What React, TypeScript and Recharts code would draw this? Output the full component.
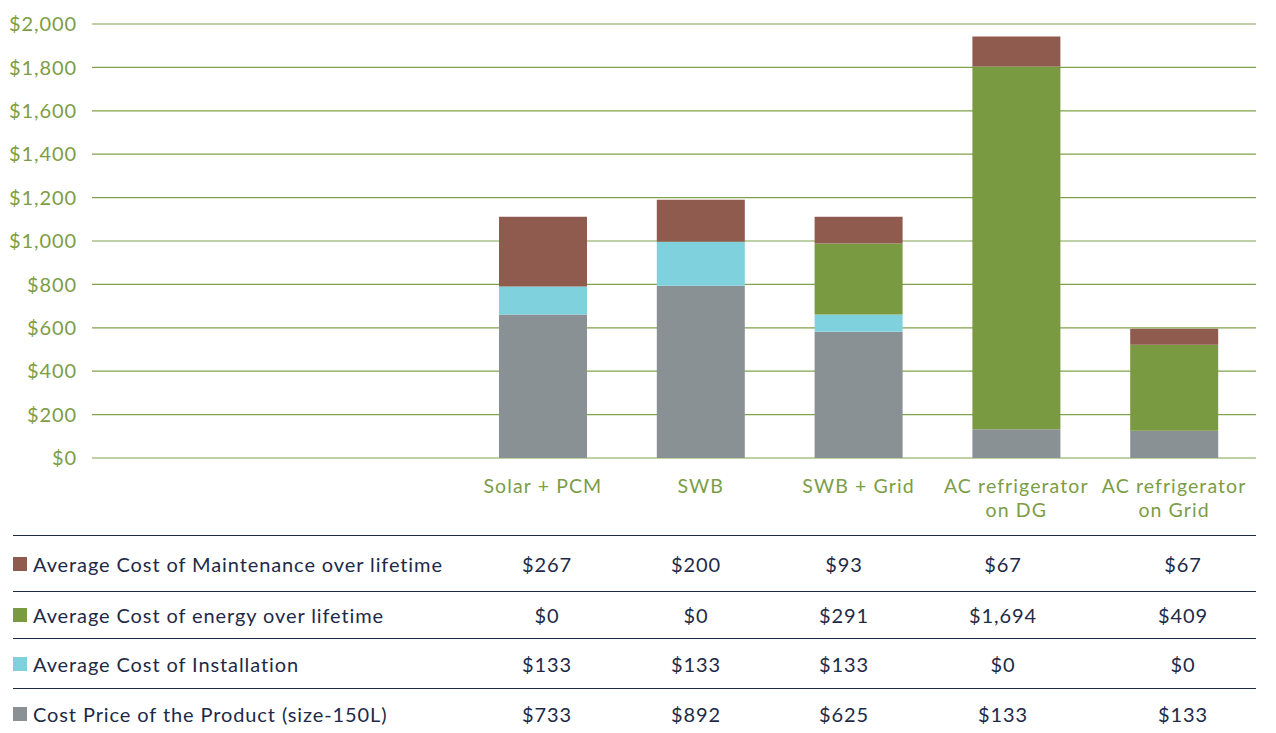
import React from 'react';
import { Bar, BarChart, CartesianGrid, XAxis, YAxis } from 'recharts';

// categories along the x axis ("\n" breaks a label into two lines)
const categories = ['Solar + PCM', 'SWB', 'SWB + Grid', 'AC refrigerator\non DG', 'AC refrigerator\non Grid'];

// bar segments, as drawn in the chart (USD)
const productCost = [661, 794, 582, 132, 126];
const installationCost = [129, 203, 79, 0, 0];
const energyCost = [0, 0, 328, 1672, 396];
const maintenanceCost = [322, 193, 123, 138, 74];

const yTicks = [0, 200, 400, 600, 800, 1000, 1200, 1400, 1600, 1800, 2000];

// table underneath the chart
const tableMaintenance = ['$267', '$200', '$93', '$67', '$67'];
const tableEnergy = ['$0', '$0', '$291', '$1,694', '$409'];
const tableInstallation = ['$133', '$133', '$133', '$0', '$0'];
const tableProduct = ['$733', '$892', '$625', '$133', '$133'];

const COLORS = {
    product: '#8a9194',
    installation: '#7fd1dd',
    energy: '#7a9a42',
    maintenance: '#8f5b4f',
};

const GREEN_TEXT = '#7c9d46';
const GRID = '#7fa34a';
const NAVY = '#1d2a47';
const FONT = 'Lato, "Noto Sans", sans-serif';
const FONT_SIZE = 20;
const SPACING = 0.9;

const data = categories.map((name, i) => ({
    name,
    product: productCost[i],
    installation: installationCost[i],
    energy: energyCost[i],
    maintenance: maintenanceCost[i],
}));

const tableRows = [
    { label: 'Average Cost of Maintenance over lifetime', color: COLORS.maintenance, values: tableMaintenance, height: 56 },
    { label: 'Average Cost of energy over lifetime', color: COLORS.energy, values: tableEnergy, height: 47 },
    { label: 'Average Cost of Installation', color: COLORS.installation, values: tableInstallation, height: 50 },
    { label: 'Cost Price of the Product (size-150L)', color: COLORS.product, values: tableProduct, height: 50 },
];

// column centres of the table, in px from its left edge
const columnCenters = [534, 683, 831, 990, 1170];

const CategoryTick = (props: any) => {
    const { x, y, payload } = props;
    const lines = String(payload.value).split('\n');
    return (
        <text
            x={x}
            y={y + 27}
            textAnchor="middle"
            fill={GREEN_TEXT}
            fontSize={19.5}
            fontFamily={FONT}
            style={{ letterSpacing: 1.1 }}
        >
            {lines.map((line, i) => (
                <tspan key={i} x={x} dy={i === 0 ? 0 : 24}>
                    {line}
                </tspan>
            ))}
        </text>
    );
};

const App = () => {
    return (
        <div style={{ position: 'relative', width: 1268, height: 725, fontFamily: FONT, letterSpacing: SPACING }}>
            <BarChart width={1276} height={525} data={data} margin={{ top: 16, right: 28, left: 0, bottom: 0 }} barSize={88}>
                <CartesianGrid vertical={false} stroke={GRID} strokeWidth={1.2} />
                <YAxis
                    width={84}
                    domain={[0, 2000]}
                    ticks={yTicks}
                    interval={0}
                    axisLine={false}
                    tickLine={false}
                    tickMargin={9}
                    tick={{ fill: GREEN_TEXT, fontSize: FONT_SIZE, fontFamily: FONT, style: { letterSpacing: SPACING } }}
                    tickFormatter={(v: number) => `$${v.toLocaleString('en-US')}`}
                />
                <XAxis
                    dataKey="name"
                    height={75}
                    interval={0}
                    axisLine={false}
                    tickLine={false}
                    padding={{ left: 372, right: 3 }}
                    tick={<CategoryTick />}
                />
                <Bar dataKey="product" stackId="cost" fill={COLORS.product} isAnimationActive={false} />
                <Bar dataKey="installation" stackId="cost" fill={COLORS.installation} isAnimationActive={false} />
                <Bar dataKey="energy" stackId="cost" fill={COLORS.energy} isAnimationActive={false} />
                <Bar dataKey="maintenance" stackId="cost" fill={COLORS.maintenance} isAnimationActive={false} />
            </BarChart>

            <div style={{ position: 'absolute', left: 5, top: 527, width: 1243 }}>
                {tableRows.map((row) => (
                    <div
                        key={row.label}
                        style={{
                            position: 'relative',
                            height: row.height,
                            borderTop: `1.5px solid ${NAVY}`,
                            boxSizing: 'border-box',
                            color: NAVY,
                            fontSize: FONT_SIZE,
                        }}
                    >
                        <div style={{ position: 'absolute', left: 0, top: 0, bottom: 0, display: 'flex', alignItems: 'center' }}>
                            <span style={{ display: 'inline-block', width: 14, height: 14, background: row.color, marginRight: 6 }} />
                            <span>{row.label}</span>
                        </div>
                        {row.values.map((v, i) => (
                            <div
                                key={i}
                                style={{
                                    position: 'absolute',
                                    left: columnCenters[i],
                                    top: 0,
                                    bottom: 0,
                                    display: 'flex',
                                    alignItems: 'center',
                                    transform: 'translateX(-50%)',
                                }}
                            >
                                {v}
                            </div>
                        ))}
                    </div>
                ))}
            </div>
        </div>
    );
};

export default App;
